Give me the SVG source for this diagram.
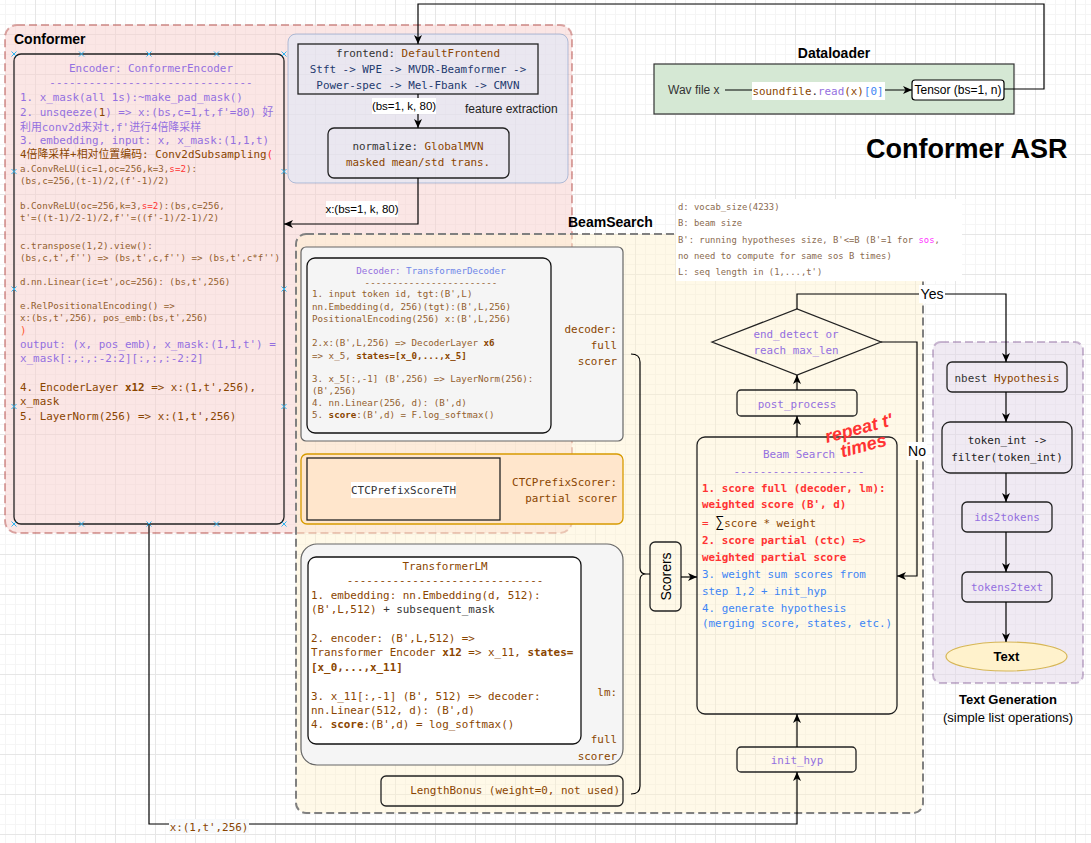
<svg xmlns="http://www.w3.org/2000/svg" width="1091" height="843" viewBox="0 0 1091 843">
<defs>
<pattern id="grid" width="40" height="40" patternUnits="userSpaceOnUse" x="35" y="34">
<path d="M10.5,0V40M20.5,0V40M30.5,0V40M0,10.5H40M0,20.5H40M0,30.5H40" stroke="#f5f5f5" stroke-width="1" fill="none"/>
<path d="M0.5,0V40M0,0.5H40" stroke="#e6e6e6" stroke-width="1" fill="none"/>
</pattern>
<marker id="arr" markerWidth="10" markerHeight="10" refX="9" refY="5" orient="auto" markerUnits="userSpaceOnUse">
<path d="M0,1 L9,5 L0,9 L2.5,5 z" fill="#000"/>
</marker>
<style>
.mono{font-family:"DejaVu Sans Mono","Noto Sans CJK SC",monospace;}
.sans{font-family:"Liberation Sans",Arial,sans-serif;}
.s11{font-size:10.9px;}
.s9{font-size:9.2px;}
.s8{font-size:8.9px;}
.mid{text-anchor:middle;}
.end{text-anchor:end;}
.pu{fill:#9470e0;}
.bp{fill:#6f86e8;}
.br{fill:#8a4500;}
.br2{fill:#93602e;}
.rd{fill:#ff3333;}
.bl{fill:#3d85f5;}
.dk{fill:#333333;}
.nv{fill:#1e3a6e;}
.nt{fill:#8a6a50;}
.b{font-weight:bold;}
.conn{fill:none;stroke:#000;stroke-width:1.2;}
.arrow{marker-end:url(#arr);}
.box{fill:none;stroke:#222;stroke-width:1.3;}
.mk{stroke:#33b5f0;stroke-width:1;fill:none;}
</style>
</defs>
<rect width="1091" height="843" fill="#ffffff"/>
<rect width="1091" height="843" fill="url(#grid)"/>

<g id="conformer">
<rect x="5" y="25" width="567" height="508" rx="12" fill="#f8cecc" fill-opacity="0.5" stroke="#b85450" stroke-opacity="0.5" stroke-width="2" stroke-dasharray="8 4"/>
<text x="14" y="44" class="sans b" font-size="14" fill="#000">Conformer</text>
</g>

<g id="beamsearch">
<rect x="296" y="234" width="627" height="579" rx="10" fill="#fff2cc" fill-opacity="0.45" stroke="#808080" stroke-width="2" stroke-dasharray="8 4"/>
<text x="568" y="227" class="sans b" font-size="14" fill="#000">BeamSearch</text>
</g>

<g id="feature-extraction">
<rect x="288" y="34" width="280" height="149" rx="8" fill="#dae8fc" fill-opacity="0.5" stroke="#6c8ebf" stroke-opacity="0.5" stroke-width="1"/>
<text x="465" y="113" class="sans" font-size="12" fill="#222">feature extraction</text>
</g>

<g id="frontend">
<rect x="298" y="44" width="240" height="50" class="box"/>
<text x="418" y="57" class="mono s11 mid"><tspan class="dk">frontend: </tspan><tspan class="br">DefaultFrontend</tspan></text>
<text x="418" y="73" class="mono s11 mid nv">Stft -&gt; WPE -&gt; MVDR-Beamformer -&gt;</text>
<text x="418" y="89" class="mono s11 mid nv">Power-spec -&gt; Mel-Fbank -&gt; CMVN</text>
</g>

<g id="normalize">
<rect x="328" y="128" width="181" height="50" rx="6" class="box"/>
<text x="418" y="150" class="mono s11 mid"><tspan class="dk">normalize: </tspan><tspan class="br">GlobalMVN</tspan></text>
<text x="418" y="166" class="mono s11 mid br">masked mean/std trans.</text>
</g>

<g id="encoder">
<rect x="14" y="54" width="270" height="470" rx="7" class="box" stroke="#000"/>
<path class="mk" d="M11.5,51.5l5,5m0,-5l-5,5M79,51.5l5,5m0,-5l-5,5M146.5,51.5l5,5m0,-5l-5,5M214,51.5l5,5m0,-5l-5,5M281.5,51.5l5,5m0,-5l-5,5M11.5,521.5l5,5m0,-5l-5,5M79,521.5l5,5m0,-5l-5,5M146.5,521.5l5,5m0,-5l-5,5M214,521.5l5,5m0,-5l-5,5M281.5,521.5l5,5m0,-5l-5,5M11.5,169l5,5m0,-5l-5,5M11.5,286.5l5,5m0,-5l-5,5M11.5,404l5,5m0,-5l-5,5M281.5,169l5,5m0,-5l-5,5M281.5,286.5l5,5m0,-5l-5,5M281.5,404l5,5m0,-5l-5,5"/>
<text x="151" y="72" class="mono s11 mid pu">Encoder: ConformerEncoder</text>
<text x="151" y="86" class="mono s11 mid pu">-------------------------------</text>
<text x="20" y="101" class="mono s11 pu">1. x_mask(all 1s):~make_pad_mask()</text>
<text x="20" y="116" class="mono s11 pu">2. unsqeeze(<tspan class="br">1</tspan>) =&gt; x:(bs,c=1,t,f'=80) 好</text>
<text x="20" y="131" class="mono s11 pu">利用conv2d来对t,f'进行4倍降采样</text>
<text x="20" y="144" class="mono s11 pu">3. embedding, input: x, x_mask:(1,1,t)</text>
<text x="20" y="158" class="mono s11 br">4倍降采样+相对位置编码: Conv2dSubsampling<tspan class="rd">(</tspan></text>
<text x="20" y="171.5" class="mono s9 br2">a.ConvReLU(ic=1,oc=256,k=3,<tspan class="rd">s=2</tspan>):</text>
<text x="20" y="183.5" class="mono s9 br2">(bs,c=256,(t-1)/2,(f'-1)/2)</text>
<text x="20" y="208.5" class="mono s9 br2">b.ConvReLU(oc=256,k=3,<tspan class="rd">s=2</tspan>):(bs,c=256,</text>
<text x="20" y="220.5" class="mono s9 br2">t'=((t-1)/2-1)/2,f''=((f'-1)/2-1)/2)</text>
<text x="20" y="248.5" class="mono s9 br2">c.transpose(1,2).view():</text>
<text x="20" y="260.5" class="mono s9 br2">(bs,c,t',f'') =&gt; (bs,t',c,f'') =&gt; (bs,t',c*f'')</text>
<text x="20" y="284.5" class="mono s9 br2">d.nn.Linear(ic=t',oc=256): (bs,t',256)</text>
<text x="20" y="308.5" class="mono s9 br2">e.RelPositionalEncoding() =&gt;</text>
<text x="20" y="320.5" class="mono s9 br2">x:(bs,t',256), pos_emb:(bs,t',256)</text>
<text x="20" y="334" class="mono s11" fill="#ff5c33">)</text>
<text x="20" y="348" class="mono s11 pu">output: (x, pos_emb), x_mask:(1,1,t') =</text>
<text x="20" y="362" class="mono s11 pu">x_mask[:,:,:-2:2][:,:,:-2:2]</text>
<text x="20" y="391" class="mono s11 br">4. EncoderLayer <tspan class="b">x12</tspan> =&gt; x:(1,t',256),</text>
<text x="20" y="405" class="mono s11 br">x_mask</text>
<text x="20" y="420" class="mono s11 br">5. LayerNorm(256) =&gt; x:(1,t',256)</text>
</g>

<g id="decoder-scorer">
<rect x="301" y="247" width="322" height="194" rx="5" fill="#f5f5f5" stroke="#666" stroke-width="1.2"/>
<rect x="307" y="258" width="244" height="175" rx="8" fill="#f5f5f5" stroke="#111" stroke-width="1.3"/>
<text x="431" y="274" class="mono s9 mid"><tspan class="pu">Decoder: </tspan><tspan class="bp">TransformerDecoder</tspan></text>
<text x="431" y="286" class="mono s9 mid br2">------------------------</text>
<text x="312" y="297" class="mono s9 br2">1. input token id, tgt:(B',L)</text>
<text x="312" y="310" class="mono s9 br2">nn.Embedding(d, 256)(tgt):(B',L,256)</text>
<text x="312" y="322" class="mono s9 br2">PositionalEncoding(256) x:(B',L,256)</text>
<text x="312" y="346" class="mono s9 br2">2.x:(B',L,256) =&gt; DecoderLayer <tspan class="b br">x6</tspan></text>
<text x="312" y="359" class="mono s9 br2">=&gt; x_5, <tspan class="b br">states=[x_0,...,x_5]</tspan></text>
<text x="312" y="382" class="mono s9 br2">3. x_5[:,-1] (B',256) =&gt; LayerNorm(256):</text>
<text x="312" y="394" class="mono s9 br2">(B',256)</text>
<text x="312" y="406" class="mono s9 br2">4. nn.Linear(256, d): (B',d)</text>
<text x="312" y="418" class="mono s9 br2">5. <tspan class="b br">score</tspan>:(B',d) = F.log_softmax()</text>
<text x="617" y="333" class="mono s11 end br">decoder:</text>
<text x="617" y="349" class="mono s11 end br">full</text>
<text x="617" y="365" class="mono s11 end br">scorer</text>
</g>

<g id="ctc-scorer">
<rect x="301" y="454" width="322" height="70" rx="6" fill="#ffe6cc" stroke="#d79b00" stroke-width="1.3"/>
<rect x="307" y="458" width="193" height="62" fill="#ffe6cc" stroke="#222" stroke-width="1.3"/>
<rect x="351" y="482" width="105" height="16" fill="#ffffff"/>
<text x="403.5" y="494" class="mono s11 mid dk">CTCPrefixScoreTH</text>
<text x="617" y="486" class="mono s11 end br">CTCPrefixScorer:</text>
<text x="617" y="502" class="mono s11 end br">partial scorer</text>
</g>

<g id="lm-scorer">
<rect x="301" y="544" width="322" height="221" rx="16" fill="#f5f5f5" stroke="#666" stroke-width="1.2"/>
<rect x="308" y="557" width="273" height="187" rx="8" fill="#ffffff" stroke="#111" stroke-width="1.3"/>
<text x="445" y="570" class="mono s11 mid br">TransformerLM</text>
<text x="445" y="583.5" class="mono s11 mid br">------------------------------</text>
<text x="311" y="599" class="mono s11 br">1. embedding: nn.Embedding(d, 512):</text>
<text x="311" y="613" class="mono s11 br">(B',L,512)<tspan class="dk"> + subsequent_mask</tspan></text>
<text x="311" y="642" class="mono s11 br">2. encoder: (B',L,512) =&gt;</text>
<text x="311" y="656" class="mono s11 br">Transformer Encoder <tspan class="b">x12</tspan> =&gt; x_11, <tspan class="b">states=</tspan></text>
<text x="311" y="671" class="mono s11 br b">[x_0,...,x_11]</text>
<text x="311" y="700" class="mono s11 br">3. x_11[:,-1] (B', 512) =&gt; decoder:</text>
<text x="311" y="714" class="mono s11 br">nn.Linear(512, d): (B',d)</text>
<text x="311" y="728" class="mono s11 br">4. <tspan class="b">score</tspan>:(B',d) = log_softmax()</text>
<text x="617" y="696" class="mono s11 end br">lm:</text>
<text x="617" y="743" class="mono s11 end br">full</text>
<text x="617" y="760" class="mono s11 end br">scorer</text>
</g>

<g id="length-bonus">
<rect x="381" y="776" width="242" height="30" rx="5" class="box"/>
<text x="620" y="794" class="mono s11 end br">LengthBonus (weight=0, not used)</text>
</g>

<g id="scorers">
<rect x="650" y="542" width="31" height="69" rx="5" class="box"/>
<text transform="translate(670.5,576.5) rotate(-90)" x="0" y="0" class="sans mid" font-size="14" fill="#000">Scorers</text>
</g>

<g id="beam-search-step">
<rect x="697" y="437" width="200" height="277" rx="8" class="box"/>
<text x="799" y="458" class="mono s11 mid pu">Beam Search</text>
<text x="799" y="474.5" class="mono s11 mid pu">--------------------</text>
<text x="702" y="492" class="mono s11 rd b">1. score full (decoder, lm):</text>
<text x="702" y="508" class="mono s11 rd b">weighted score (B', d)</text>
<text x="702" y="527" class="mono s11"><tspan class="rd">= </tspan><tspan fill="#000" font-size="15">∑</tspan><tspan class="br">score * weight</tspan></text>
<text x="702" y="544" class="mono s11 rd b">2. score partial (ctc) =&gt;</text>
<text x="702" y="561" class="mono s11 rd b">weighted partial score</text>
<text x="702" y="578" class="mono s11 bl">3. weight sum scores from</text>
<text x="702" y="595" class="mono s11 bl">step 1,2 + init_hyp</text>
<text x="702" y="612" class="mono s11 bl">4. generate hypothesis</text>
<text x="702" y="627" class="mono s11 bl">(merging score, states, etc.)</text>
</g>

<g id="repeat-label">
<text transform="translate(861,437) rotate(-15)" class="sans b mid rd" font-size="18" font-style="italic"><tspan x="0" y="-3">repeat t'</tspan><tspan x="0" y="15">times</tspan></text>
</g>

<g id="post-process">
<rect x="737" y="390" width="120" height="26" rx="4" class="box"/>
<text x="797" y="408" class="mono s11 mid pu">post_process</text>
</g>

<g id="end-detect">
<polygon points="712,342 797,309 881,342 797,375" class="box"/>
<text x="796" y="338" class="mono s11 mid pu">end_detect or</text>
<text x="796" y="354" class="mono s11 mid pu">reach max_len</text>
</g>

<g id="init-hyp">
<rect x="737" y="747" width="119" height="25" rx="4" class="box"/>
<text x="797" y="764" class="mono s11 mid pu">init_hyp</text>
</g>

<g id="notes">
<rect x="676" y="199" width="286" height="82" fill="#ffffff"/>
<text x="678" y="210" class="mono s8 nt">d: vocab_size(4233)</text>
<text x="678" y="226" class="mono s8 nt">B: beam size</text>
<text x="678" y="243" class="mono s8 nt">B': running hypotheses size, B'&lt;=B (B'=1 for <tspan fill="#ff33ff">sos</tspan>,</text>
<text x="678" y="259" class="mono s8 nt">no need to compute for same sos B times)</text>
<text x="678" y="275" class="mono s8 nt">L: seq length in (1,...,t')</text>
</g>

<g id="dataloader">
<text x="834" y="58" class="sans b mid" font-size="14" fill="#000">Dataloader</text>
<rect x="654" y="64" width="360" height="50" fill="#d5e8d4" stroke="#333" stroke-width="1.2"/>
<text x="668" y="94" class="sans" font-size="12" fill="#333">Wav file x</text>
<rect x="912" y="80" width="92" height="20" rx="3" fill="#ffffff" stroke="#000" stroke-width="1.2"/>
<text x="958" y="94" class="sans mid" font-size="12" fill="#000">Tensor (bs=1, n)</text>
</g>

<g id="title">
<text x="866" y="158" class="sans b" font-size="27" fill="#000">Conformer ASR</text>
</g>

<g id="text-generation">
<rect x="933" y="342" width="150" height="341" rx="8" fill="#e1d5e7" fill-opacity="0.5" stroke="#9673a6" stroke-opacity="0.5" stroke-width="2" stroke-dasharray="8 4"/>
<text x="1008" y="704" class="sans b mid" font-size="13" fill="#000">Text Generation</text>
<text x="1008" y="722" class="sans mid" font-size="13" fill="#000">(simple list operations)</text>
</g>

<g id="nbest">
<rect x="947" y="362" width="120" height="30" rx="5" class="box"/>
<text x="1007" y="382" class="mono s11 mid"><tspan class="dk">nbest </tspan><tspan class="br">Hypothesis</tspan></text>
</g>
<g id="token-filter">
<rect x="942" y="422" width="130" height="51" rx="8" class="box"/>
<text x="1007" y="444" class="mono s11 mid" fill="#222">token_int -&gt;</text>
<text x="1007" y="461" class="mono s11 mid" fill="#222">filter(token_int)</text>
</g>
<g id="ids2tokens">
<rect x="962" y="502" width="90" height="30" rx="5" class="box"/>
<text x="1007" y="521" class="mono s11 mid pu">ids2tokens</text>
</g>
<g id="tokens2text">
<rect x="962" y="572" width="90" height="30" rx="5" class="box"/>
<text x="1007" y="591" class="mono s11 mid pu">tokens2text</text>
</g>
<g id="text-out">
<ellipse cx="1006.5" cy="656.5" rx="60.5" ry="14.5" fill="#fff2cc" stroke="#d6b656" stroke-width="1.2"/>
<text x="1006.5" y="661" class="sans b mid" font-size="13" fill="#000">Text</text>
</g>

<g id="connectors">
<path class="conn arrow" d="M1004,89 H1044 V4 H418 V44"/>
<path class="conn arrow" d="M725,90 H912"/>
<rect x="752" y="82" width="133" height="18" fill="#ffffff"/>
<text x="818" y="95" class="mono s11 mid"><tspan class="br">soundfile</tspan><tspan class="dk">.</tspan><tspan class="pu">read</tspan><tspan class="br">(x)</tspan><tspan class="bl">[0]</tspan></text>
<path class="conn arrow" d="M418,94 V128"/>
<rect x="372" y="98" width="64" height="16" fill="#ffffff"/>
<text x="404" y="110" class="sans mid" font-size="11.5" fill="#000">(bs=1, k, 80)</text>
<path class="conn arrow" d="M418,178 V224 H284"/>
<rect x="326" y="201" width="72" height="16" fill="#ffffff"/>
<text x="362" y="213" class="sans mid" font-size="11.5" fill="#000">x:(bs=1, k, 80)</text>
<path class="conn arrow" d="M149,524 V824 H797 V772"/>
<rect x="169" y="819" width="80" height="14" fill="#f8fafc"/>
<text x="209" y="831" class="mono s11 mid br">x:(1,t',256)</text>
<path class="conn arrow" d="M797,747 V714"/>
<path class="conn arrow" d="M797,437 V416"/>
<path class="conn arrow" d="M797,390 V375"/>
<path class="conn arrow" d="M797,309 V294 H1006 V362"/>
<rect x="919" y="285" width="26" height="18" fill="#ffffff"/>
<text x="932" y="299" class="sans mid" font-size="14" fill="#000">Yes</text>
<path class="conn arrow" d="M881,342 H917 V576 H897"/>
<rect x="907" y="442" width="20" height="18" fill="#ffffff"/>
<text x="917" y="456" class="sans mid" font-size="14" fill="#000">No</text>
<path class="conn arrow" d="M681,577 H697"/>
<path class="conn" d="M631,354 Q640,354 640,362 V568 Q640,574 646,574 Q640,574 640,580 V786 Q640,794 631,794 M646,574 H650"/>
<path class="conn arrow" d="M1006,392 V422"/>
<path class="conn arrow" d="M1006,473 V502"/>
<path class="conn arrow" d="M1006,532 V572"/>
<path class="conn arrow" d="M1006,602 V642"/>
</g>
</svg>
